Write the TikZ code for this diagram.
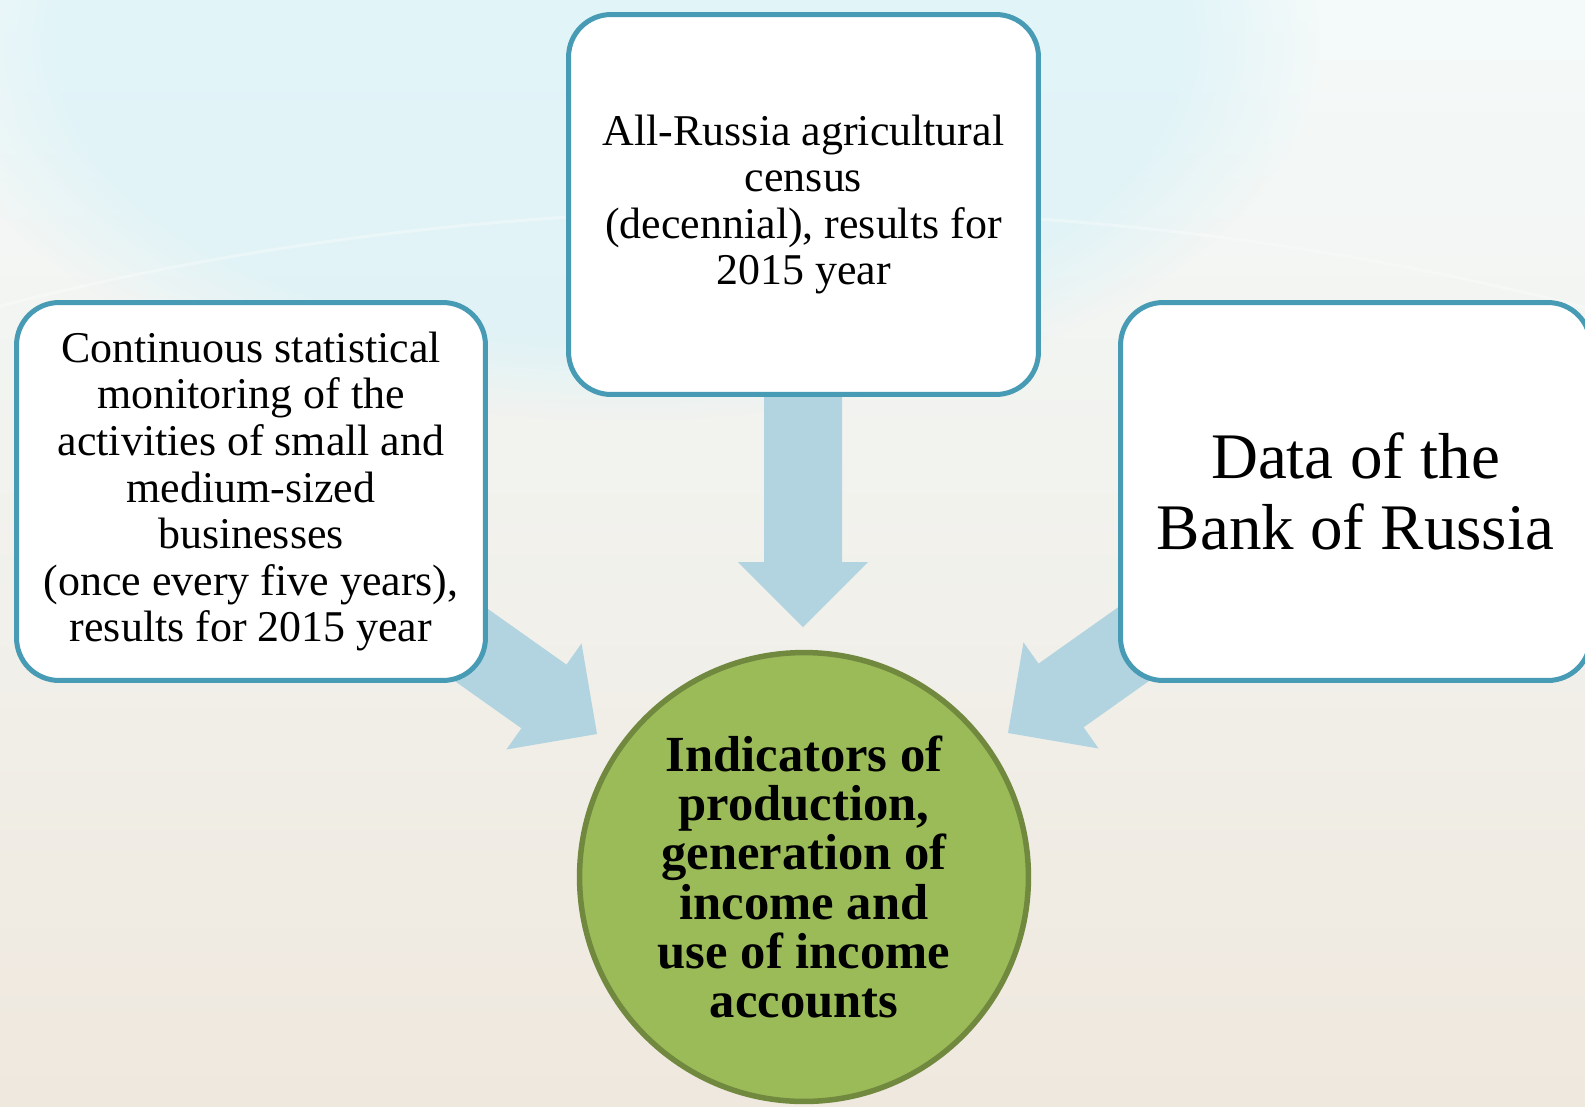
\documentclass[tikz,border=0pt]{standalone}
\usepackage{fontspec}
\setmainfont{Liberation Serif}
\usetikzlibrary{fadings}
\definecolor{boxline}{RGB}{72,155,180}
\definecolor{arrowfill}{RGB}{177,212,224}
\definecolor{circfill}{RGB}{155,187,89}
\definecolor{circline}{RGB}{113,137,63}
\definecolor{bgtop}{RGB}{244,250,250}
\definecolor{bgbot}{RGB}{239,232,222}
\definecolor{bgcyan}{RGB}{218,242,248}
\newcommand{\blkarrow}[3]{%
  \fill[arrowfill, shift={(#1)}, rotate=#2]
    (0,0) -- (-65,65) -- (-65,39) -- (-#3,39) -- (-#3,-39) -- (-65,-39) -- (-65,-65) -- cycle;}
\begin{document}
\begin{tikzpicture}[x={(0.02cm,0)}, y={(0,-0.02cm)},
  srcbox/.style={draw=boxline, line width=0.1cm, fill=white, rounded corners=0.85cm,
    align=center, inner sep=0pt},
  smalltext/.style={font=\fontsize{25}{26.5}\selectfont},
  bigtext/.style={font=\fontsize{37}{40.4}\selectfont},
  resultcirc/.style={circle, draw=circline, line width=0.11cm, fill=circfill,
    minimum size=8.98cm, align=center, inner sep=0pt,
    font=\bfseries\fontsize{28.8}{28}\selectfont}]
\useasboundingbox (0,0) rectangle (1585,1106);
\clip (0,0) rectangle (1585,1106);
% background
\shade[top color=bgtop, bottom color=bgbot] (0,0) rectangle (1585,1106);
\fill[bgcyan, opacity=0.7, path fading=circle with fuzzy edge 20 percent] (620,40) ellipse [x radius=700, y radius=380];
\draw[white, opacity=0.3, line width=0.06cm] (790,1100) ellipse [x radius=1745, y radius=890];
% block arrows
\blkarrow{803,627}{-90}{250}
\blkarrow{597,734}{-35.3}{220}
\blkarrow{1008,733}{-144.7}{220}
% source boxes
\node[srcbox, smalltext, minimum width=9.4cm, minimum height=7.6cm] (census) at (803.5,204.5)
  {All-Russia agricultural\\census\\(decennial), results for\\2015 year};
\node[srcbox, smalltext, minimum width=9.38cm, minimum height=7.56cm] (smb) at (251,491.5)
  {Continuous statistical\\monitoring of the\\activities of small and\\medium-sized\\businesses\\(once every five years),\\results for 2015 year};
\node[srcbox, bigtext, minimum width=9.4cm, minimum height=7.56cm] (bank) at (1355.5,491.5)
  {Data of the\\Bank of Russia};
% result circle
\node[resultcirc] (ind) at (804,877)
  {Indicators of\\production,\\generation of\\income and\\use of income\\accounts};
\end{tikzpicture}
\end{document}
